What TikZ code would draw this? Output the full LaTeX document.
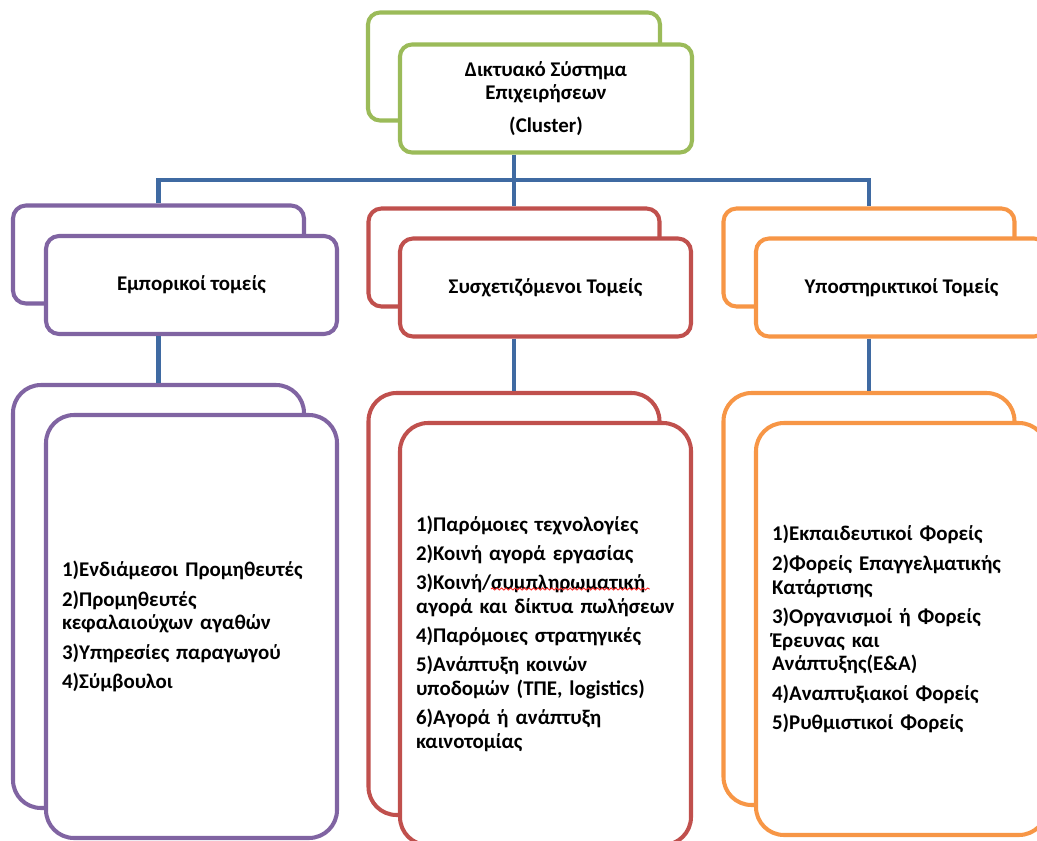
\documentclass[tikz,border=0pt]{standalone}
\usepackage{fontspec}
\setmainfont{Carlito}
\usetikzlibrary{decorations.pathmorphing}
\definecolor{grn}{HTML}{9BBB59}
\definecolor{prp}{HTML}{8064A2}
\definecolor{rdd}{HTML}{C0504D}
\definecolor{org}{HTML}{F79646}
\definecolor{linkblue}{HTML}{3F6AA2}

\begin{document}
\begin{tikzpicture}[every node/.style={font=\bfseries\fontsize{11.9}{13.6}\selectfont}]
  \tikzset{
    card/.style={draw=#1,line width=2.3pt,fill=white,inner sep=0pt},
    head/.style={card=#1,minimum width=5.84cm,minimum height=2.16cm,rounded corners=0.24cm,align=center},
    sect/.style={card=#1,minimum width=5.82cm,minimum height=1.96cm,rounded corners=0.26cm,align=center},
    list/.style={card=#1,rounded corners=0.56cm,inner xsep=0.32cm,text width=5.18cm,align=left},
    link/.style={draw=linkblue,line width=2.8pt},
    spellwave/.style={draw=red!85,line width=0.5pt,decorate,decoration={snake,amplitude=0.6pt,segment length=2.6pt}}
  }
  \useasboundingbox (0,0) rectangle (20.74,-16.82);
  \coordinate (bus) at (10.28,-3.6);
  % top level
  \node[head=grn] (cback) at (10.28,-1.33) {};
  \node[head=grn] (cfront) at (10.92,-1.97) {Δικτυακό Σύστημα\\Επιχειρήσεων\\[5pt](Cluster)};
  % sector boxes and lists, back layer
  \foreach \n/\c/\x/\y/\h in {e/prp/3.17/-11.93/8.46,s/rdd/10.28/-12.08/8.44,y/org/17.38/-11.98/8.24}
    \node[list=\c,minimum height=\h cm] (\n lback) at (\x,\y) {};
  \foreach \n/\c/\x/\y in {e/prp/3.17/-5.09,s/rdd/10.28/-5.15,y/org/17.38/-5.15}
    \node[sect=\c] (\n back) at (\x,\y) {};
  % connectors
  \draw[link] (cback.south |- cfront.south) -- (bus);
  \draw[link] (eback.north) |- (bus) -| (yback.north);
  \draw[link] (bus) -- (sback.north);
  % front layer
  \node[sect=prp] (efront) at (3.83,-5.70) {Εμπορικοί τομείς};
  \node[sect=rdd] (sfront) at (10.91,-5.75) {Συσχετιζόμενοι Τομείς};
  \node[sect=org] (yfront) at (18.03,-5.75) {Υποστηρικτικοί Τομείς};
  \foreach \n in {e,s,y}
    \draw[link] (\n back.south |- \n front.south) -- (\n lback.north);
  \node[list=prp,minimum height=8.46cm] (elist) at (3.83,-12.53)
    {1)Ενδιάμεσοι Προμηθευτές\\[3pt]2)Προμηθευτές\\κεφαλαιούχων αγαθών\\[3pt]3)Υπηρεσίες παραγωγού\\[3pt]4)Σύμβουλοι};
  \node[list=rdd,minimum height=8.44cm] (slist) at (10.91,-12.68)
    {1)Παρόμοιες τεχνολογίες\\[3pt]2)Κοινή αγορά εργασίας\\[3pt]3)Κοινή/συμπληρωματική\\αγορά και δίκτυα πωλήσεων\\[3pt]4)Παρόμοιες στρατηγικές\\[3pt]5)Ανάπτυξη κοινών\\υποδομών (ΤΠΕ, logistics)\\[3pt]6)Αγορά ή ανάπτυξη\\καινοτομίας};
  \node[list=org,minimum height=8.24cm] (ylist) at (18.03,-12.58)
    {1)Εκπαιδευτικοί Φορείς\\[3pt]2)Φορείς Επαγγελματικής\\Κατάρτισης\\[3pt]3)Οργανισμοί ή Φορείς\\Έρευνας και\\Ανάπτυξης(Ε\&Α)\\[3pt]4)Αναπτυξιακοί Φορείς\\[3pt]5)Ρυθμιστικοί Φορείς};
  % spelling mark
  \draw[spellwave] ([shift={(1.86,-3.36)}]slist.north west) -- ([shift={(5.04,-3.36)}]slist.north west);
\end{tikzpicture}
\end{document}
